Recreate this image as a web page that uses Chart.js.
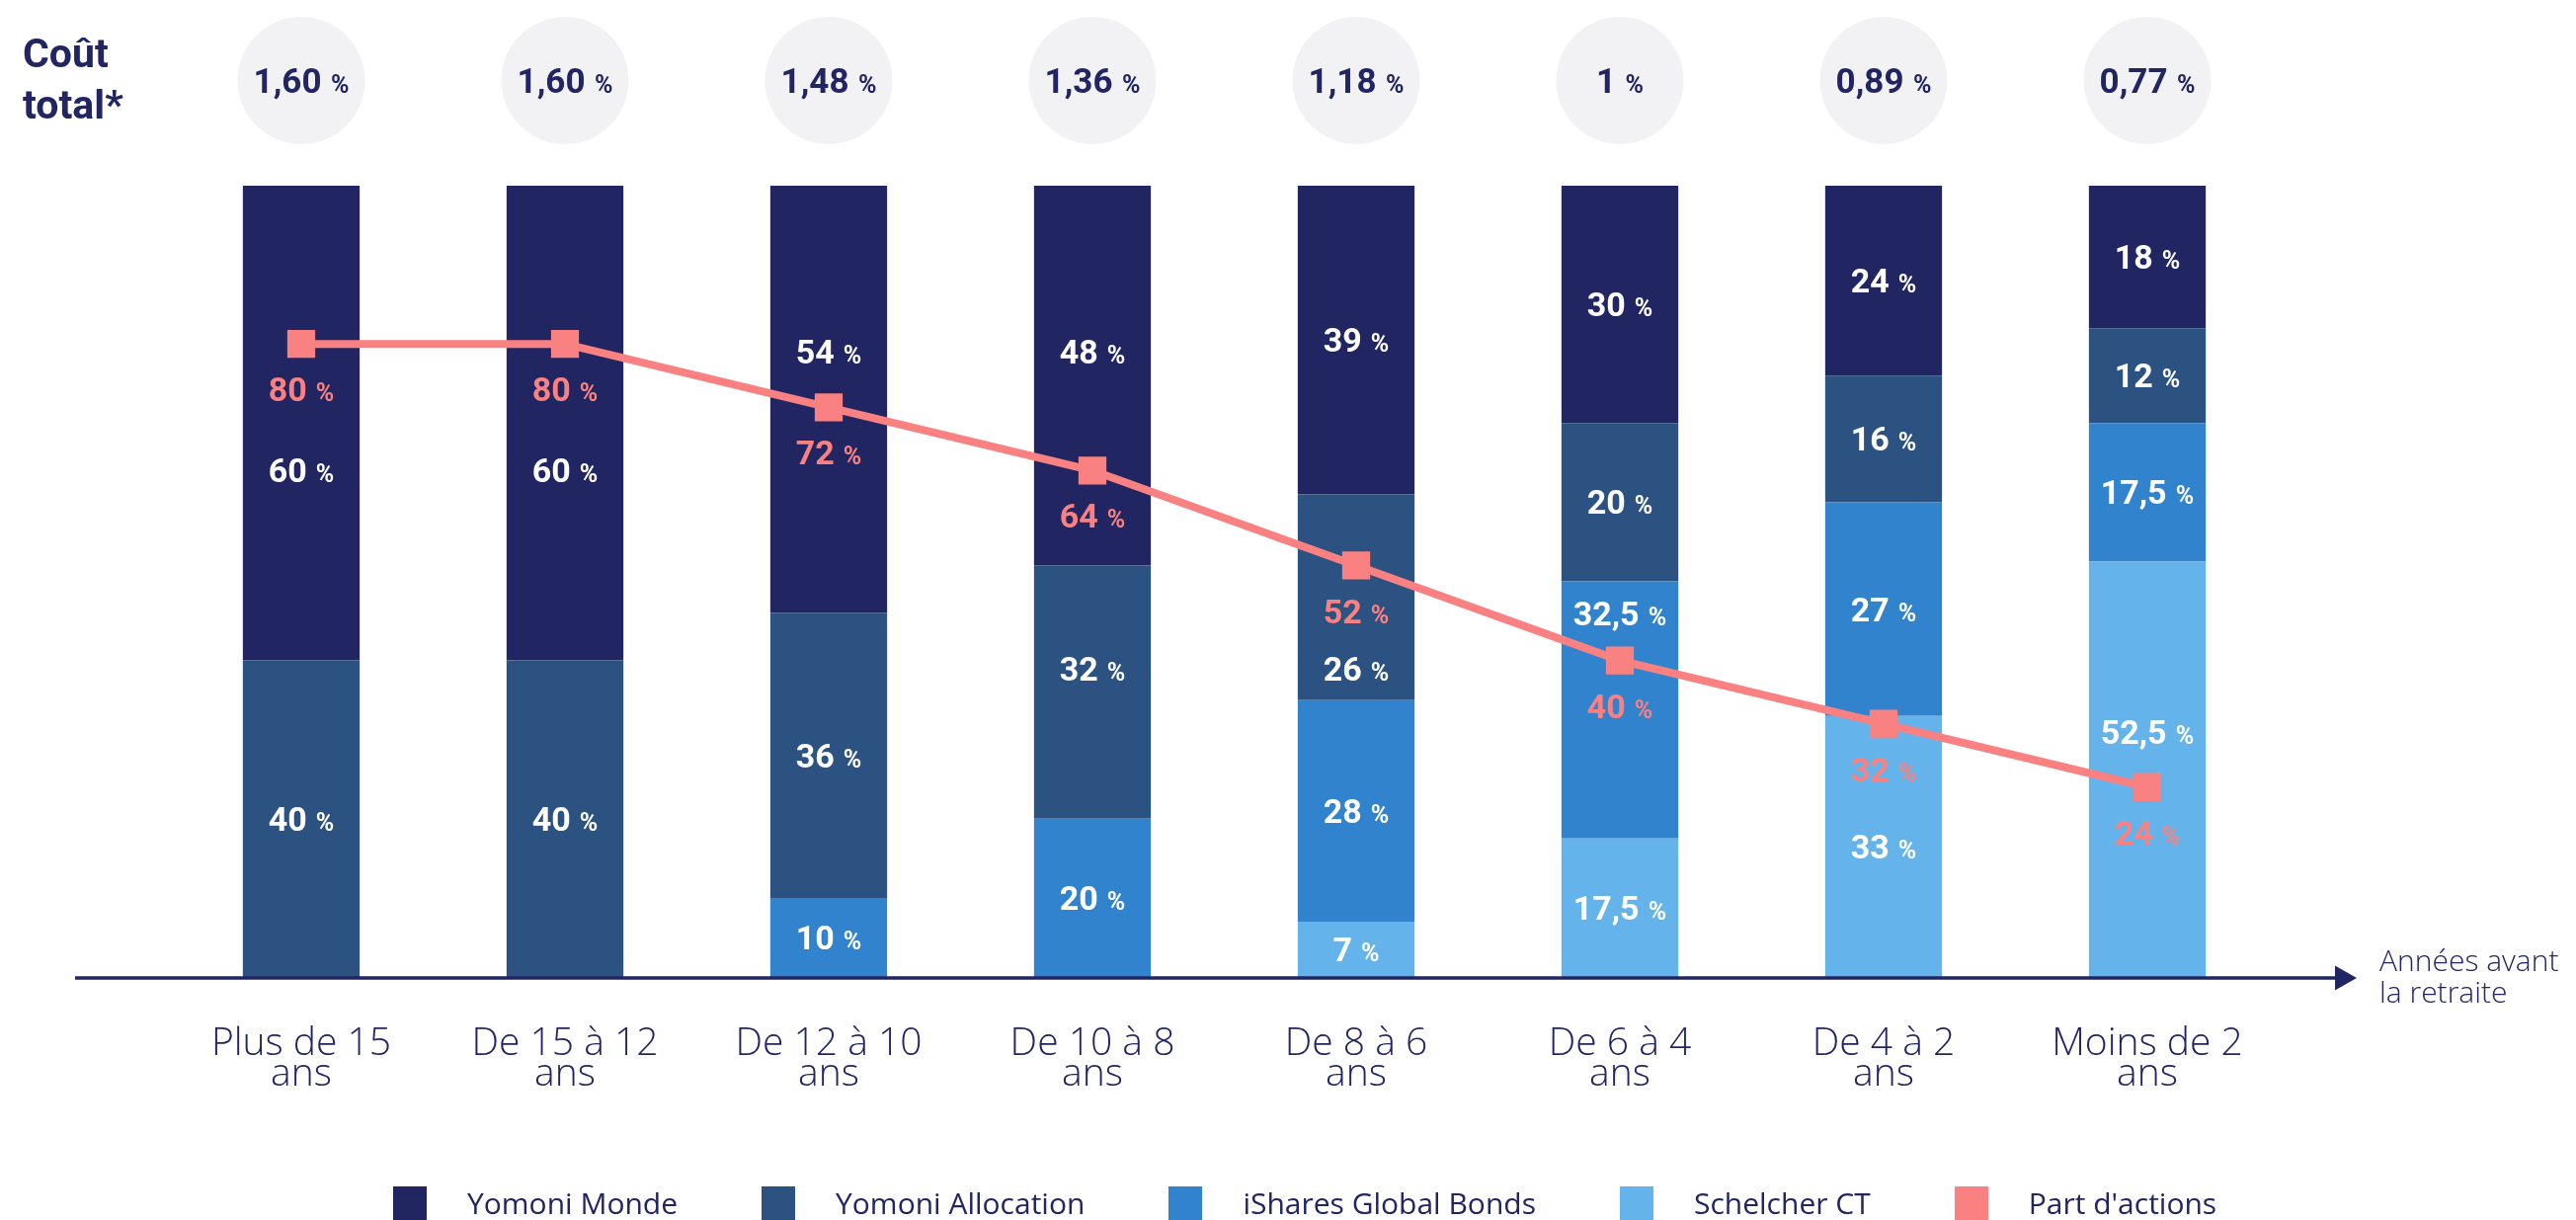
<!DOCTYPE html>
<html lang="fr">
<head>
<meta charset="utf-8">
<title>Allocation par horizon de retraite</title>
<script src="https://cdn.jsdelivr.net/npm/chart.js@4.4.1/dist/chart.umd.min.js"></script>
<style>
    html, body { margin: 0; padding: 0; background: #fff; overflow: hidden; }
    #wrap { position: relative; width: 2608px; height: 1235px; }
    #legend {
        position: absolute; left: 398px; top: 1201px;
        display: flex; align-items: center;
        font-family: 'Open Sans', sans-serif; font-size: 30px; line-height: 34px; color: #212562;
    }
    .legend-item { display: flex; align-items: center; margin-right: 85px; white-space: nowrap; }
    .legend-box { width: 34px; height: 34px; margin-right: 41px; }
</style>
</head>
<body>
<div id="wrap">
    <canvas id="glidePathChart"></canvas>
    <div id="legend"></div>
</div>
<script>
/* --- Données --- */
const categories = [
    ['Plus de 15', 'ans'], ['De 15 à 12', 'ans'], ['De 12 à 10', 'ans'], ['De 10 à 8', 'ans'],
    ['De 8 à 6', 'ans'], ['De 6 à 4', 'ans'], ['De 4 à 2', 'ans'], ['Moins de 2', 'ans']
];
const yomoniMonde = [60, 60, 54, 48, 39, 30, 24, 18];
const yomoniAllocation = [40, 40, 36, 32, 26, 20, 16, 12];
const isharesBonds = [0, 0, 10, 20, 28, 32.5, 27, 17.5];
const schelcherCT = [0, 0, 0, 0, 7, 17.5, 33, 52.5];
const partActions = [80, 80, 72, 64, 52, 40, 32, 24];
const coutTotal = ['1,60', '1,60', '1,48', '1,36', '1,18', '1', '0,89', '0,77'];

/* Étiquettes déplacées pour ne pas chevaucher la courbe (en % de l'axe), null = milieu du segment */
const labelAnchors = {
    'Yomoni Monde': [64, 64, 79, 79, null, null, null, null],
    'Yomoni Allocation': [null, null, null, 39, 39, null, null, null],
    'iShares Global Bonds': [null, null, null, null, null, 46, null, null],
    'Schelcher CT': [null, null, null, null, null, null, null, 31]
};

const NAVY = '#212562';
const SALMON = '#f98181';

function frNumber(v) { return String(v).replace('.', ','); }

function drawPercent(ctx, x, yMid, num, color, bigSize, smallSize) {
    const gap = bigSize * 0.27;
    ctx.font = `700 ${bigSize}px Roboto`;
    const wNum = ctx.measureText(num).width;
    ctx.font = `700 ${smallSize}px Roboto`;
    const wPct = ctx.measureText('%').width;
    const left = x - (wNum + gap + wPct) / 2;
    const base = yMid + bigSize * 0.355;
    ctx.fillStyle = color;
    ctx.textAlign = 'left';
    ctx.textBaseline = 'alphabetic';
    ctx.font = `700 ${bigSize}px Roboto`;
    ctx.fillText(num, left, base);
    ctx.font = `700 ${smallSize}px Roboto`;
    ctx.fillText('%', left + wNum + gap, base);
}

/* --- Habillage : coûts, étiquettes, axe fléché --- */
const overlayPlugin = {
    id: 'overlay',
    afterDatasetsDraw(chart) {
        const ctx = chart.ctx;
        const yScale = chart.scales.y;
        ctx.save();
        chart.data.datasets.forEach((ds, i) => {
            const meta = chart.getDatasetMeta(i);
            if (ds.type === 'line') {
                meta.data.forEach((pt, j) => drawPercent(ctx, pt.x, pt.y + 46, frNumber(ds.data[j]), SALMON, 34, 25));
                return;
            }
            meta.data.forEach((bar, j) => {
                const v = ds.data[j];
                if (!v) return;
                const anchor = labelAnchors[ds.label]?.[j];
                const y = anchor != null ? yScale.getPixelForValue(anchor) : (bar.y + bar.base) / 2;
                drawPercent(ctx, bar.x, y, frNumber(v), '#ffffff', 34, 25);
            });
        });
        ctx.restore();
    },
    afterDraw(chart) {
        const ctx = chart.ctx;
        const xScale = chart.scales.x;
        const axisY = chart.chartArea.bottom + 1;
        ctx.save();

        // Coût total
        ctx.fillStyle = NAVY;
        ctx.font = '700 41px Roboto';
        ctx.textAlign = 'left';
        ctx.textBaseline = 'alphabetic';
        ctx.fillText('Coût', 23, 68);
        ctx.fillText('total*', 23, 120);

        coutTotal.forEach((c, j) => {
            const x = xScale.getPixelForValue(j);
            ctx.beginPath();
            ctx.arc(x, 81.5, 64.5, 0, Math.PI * 2);
            ctx.fillStyle = '#f2f2f4';
            ctx.fill();
            drawPercent(ctx, x, 82, c, NAVY, 35, 25);
        });

        // Axe horizontal avec flèche
        ctx.strokeStyle = NAVY;
        ctx.lineWidth = 3.5;
        ctx.beginPath();
        ctx.moveTo(76, axisY);
        ctx.lineTo(2366, axisY);
        ctx.stroke();
        ctx.fillStyle = NAVY;
        ctx.beginPath();
        ctx.moveTo(2364, axisY - 12.5);
        ctx.lineTo(2386, axisY);
        ctx.lineTo(2364, axisY + 12.5);
        ctx.closePath();
        ctx.fill();

        ctx.font = "300 30px 'Open Sans'";
        ctx.textAlign = 'left';
        ctx.fillText('Années avant', 2409, axisY - 7);
        ctx.fillText('la retraite', 2409, axisY + 25);
        ctx.restore();
    }
};

/* --- Graphique --- */
const chart = new Chart(document.getElementById('glidePathChart'), {
    type: 'bar',
    data: {
        labels: categories,
        datasets: [
            { label: 'Schelcher CT', data: schelcherCT, backgroundColor: '#64b4eb', order: 1 },
            { label: 'iShares Global Bonds', data: isharesBonds, backgroundColor: '#3183cd', order: 1 },
            { label: 'Yomoni Allocation', data: yomoniAllocation, backgroundColor: '#2c5281', order: 1 },
            { label: 'Yomoni Monde', data: yomoniMonde, backgroundColor: '#212562', order: 1 },
            {
                type: 'line', label: "Part d'actions", data: partActions, yAxisID: 'yLine',
                borderColor: SALMON, backgroundColor: SALMON, borderWidth: 8,
                pointStyle: 'rect', pointRadius: 20, pointBorderWidth: 0, order: 0
            }
        ]
    },
    options: {
        responsive: true,
        maintainAspectRatio: false,
        animation: false,
        layout: { padding: { top: 188, left: 171.5, right: 300.5, bottom: 132 } },
        datasets: { bar: { categoryPercentage: 1, barPercentage: 0.443, borderWidth: 0 } },
        plugins: { legend: { display: false }, tooltip: { enabled: false } },
        scales: {
            x: {
                stacked: true,
                grid: { display: false, drawTicks: false },
                border: { display: false },
                ticks: {
                    color: NAVY, padding: 52, maxRotation: 0, autoSkip: false,
                    font: { family: "'Open Sans'", size: 39, weight: 300, lineHeight: 0.8 }
                },
                afterFit: s => { s.height = 114; }
            },
            y: { stacked: true, display: false, min: 0, max: 100 },
            yLine: { display: false, min: 0, max: 100 }
        }
    },
    plugins: [overlayPlugin]
});

/* --- Légende --- */
const legendEl = document.getElementById('legend');
const legendOrder = ['Yomoni Monde', 'Yomoni Allocation', 'iShares Global Bonds', 'Schelcher CT', "Part d'actions"];
legendOrder.forEach(name => {
    const ds = chart.data.datasets.find(d => d.label === name);
    const item = document.createElement('div');
    item.className = 'legend-item';
    const box = document.createElement('span');
    box.className = 'legend-box';
    box.style.background = ds.type === 'line' ? ds.borderColor : ds.backgroundColor;
    const text = document.createElement('span');
    text.textContent = name;
    item.appendChild(box);
    item.appendChild(text);
    legendEl.appendChild(item);
});
</script>
</body>
</html>
